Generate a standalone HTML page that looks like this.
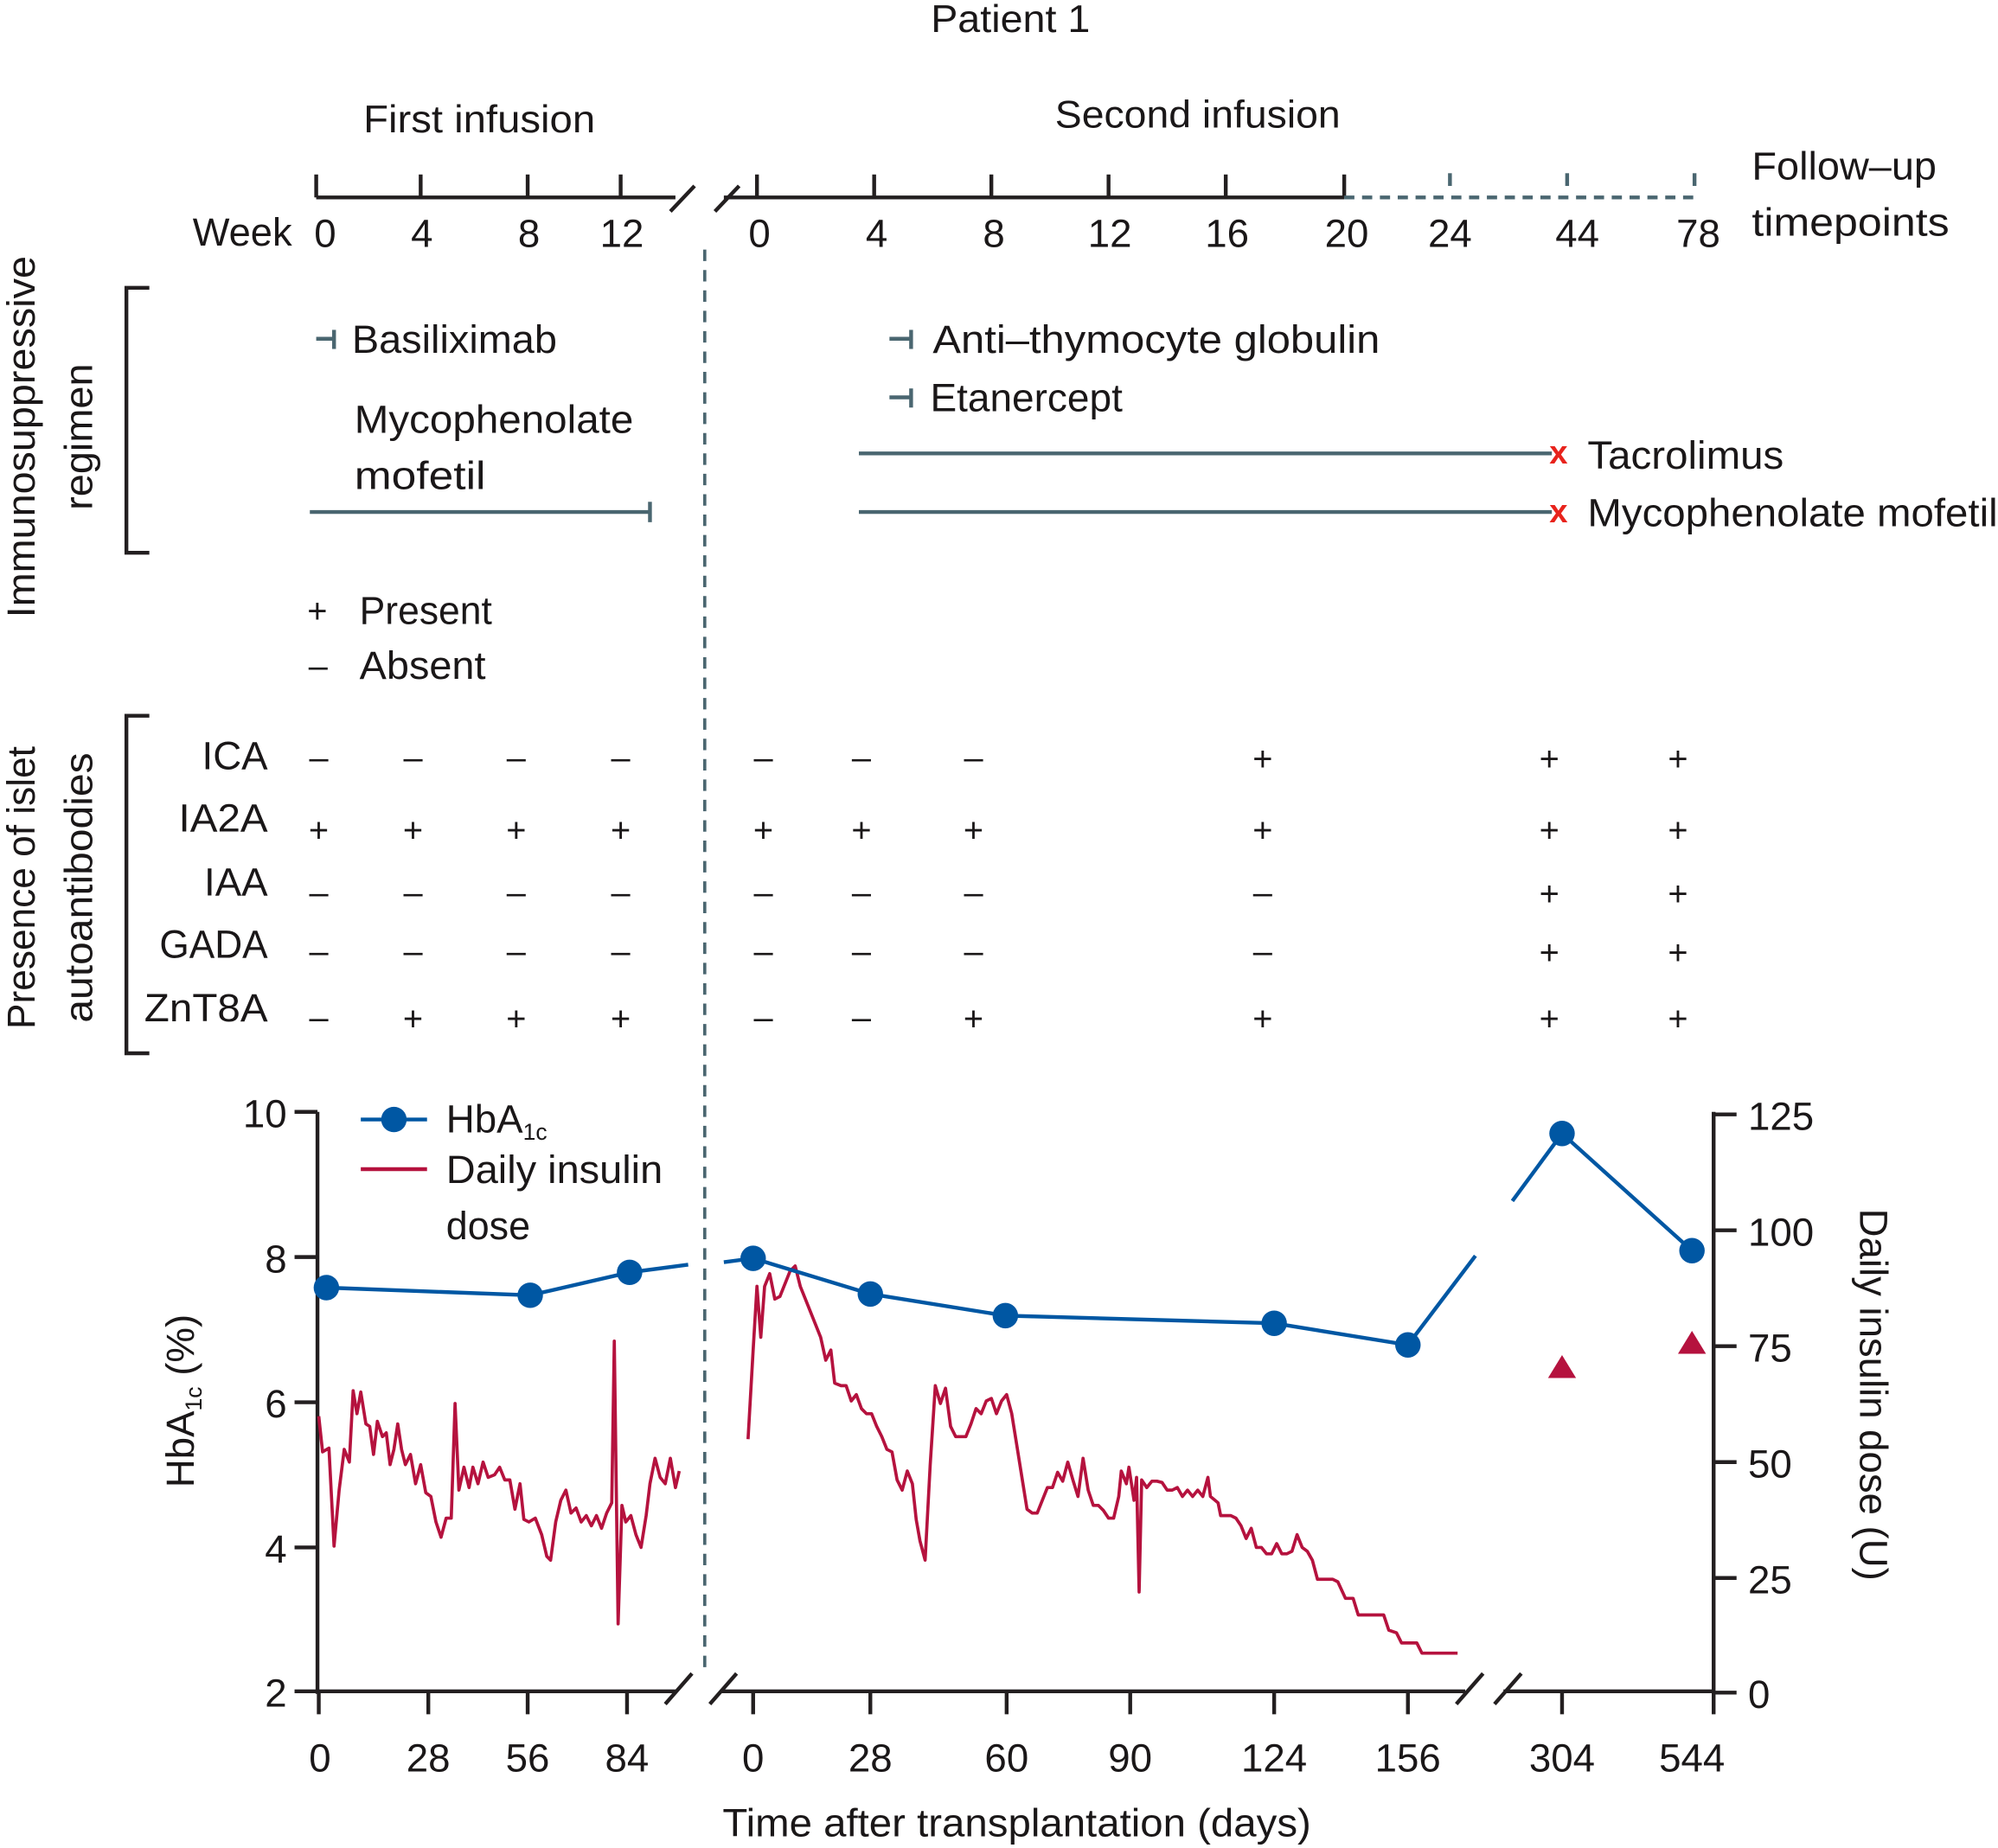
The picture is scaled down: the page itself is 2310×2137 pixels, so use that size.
<!DOCTYPE html>
<html><head><meta charset="utf-8"><style>
html,body{margin:0;padding:0;background:#fff}
svg{display:block}
text{font-family:"Liberation Sans",sans-serif;fill:#1a1718}
</style></head><body>
<svg width="2310" height="2137" viewBox="0 0 1568 1451" xmlns="http://www.w3.org/2000/svg">
<g font-size="30">
<text x="793" y="25" text-anchor="middle" textLength="125" lengthAdjust="spacingAndGlyphs">Patient 1</text>
<text x="376" y="104" text-anchor="middle" textLength="182" lengthAdjust="spacingAndGlyphs">First infusion</text>
<text x="940" y="100" text-anchor="middle" textLength="224" lengthAdjust="spacingAndGlyphs">Second infusion</text>
</g>
<g stroke="#231f20" stroke-width="3" fill="none">
<line x1="248" y1="155" x2="530" y2="155"/>
<line x1="248" y1="137" x2="248" y2="155"/><line x1="330" y1="137" x2="330" y2="155"/><line x1="414" y1="137" x2="414" y2="155"/><line x1="487" y1="137" x2="487" y2="155"/>
<line x1="526" y1="166" x2="545" y2="146"/><line x1="561" y1="166" x2="580" y2="146"/>
<line x1="568" y1="155" x2="1055" y2="155"/>
<line x1="594" y1="137" x2="594" y2="155"/><line x1="686" y1="137" x2="686" y2="155"/><line x1="778" y1="137" x2="778" y2="155"/><line x1="870" y1="137" x2="870" y2="155"/><line x1="962" y1="137" x2="962" y2="155"/><line x1="1055" y1="137" x2="1055" y2="155"/>
</g>
<g stroke="#4a6670" stroke-width="3" fill="none">
<line x1="1055" y1="155" x2="1332" y2="155" stroke-dasharray="8,6"/>
<line x1="1138" y1="136" x2="1138" y2="146"/><line x1="1230" y1="136" x2="1230" y2="146"/><line x1="1330" y1="136" x2="1330" y2="146"/>
<line x1="553" y1="196" x2="553" y2="1312" stroke-width="2.5" stroke-dasharray="9,7"/>
</g>
<g font-size="31" text-anchor="middle">
<text x="190" y="193" textLength="78" lengthAdjust="spacingAndGlyphs">Week</text>
<text x="255" y="194">0</text><text x="331" y="194">4</text><text x="415" y="194">8</text><text x="488" y="194">12</text>
<text x="596" y="194">0</text><text x="688" y="194">4</text><text x="780" y="194">8</text><text x="871" y="194">12</text><text x="963" y="194">16</text><text x="1057" y="194">20</text><text x="1138" y="194">24</text><text x="1238" y="194">44</text><text x="1333" y="194">78</text>
</g>
<g font-size="31">
<text x="1375" y="141" textLength="145" lengthAdjust="spacingAndGlyphs">Follow–up</text>
<text x="1375" y="185" textLength="155" lengthAdjust="spacingAndGlyphs">timepoints</text>
</g>
<g stroke="#231f20" stroke-width="3" fill="none">
<polyline points="117,226 99,226 99,434 117,434"/>
<polyline points="117,562 99,562 99,827 117,827"/>
</g>
<g font-size="31" text-anchor="middle">
<text transform="translate(27,343) rotate(-90)" textLength="284" lengthAdjust="spacingAndGlyphs">Immunosuppressive</text>
<text transform="translate(72,343) rotate(-90)" textLength="115" lengthAdjust="spacingAndGlyphs">regimen</text>
<text transform="translate(27,697) rotate(-90)" textLength="222" lengthAdjust="spacingAndGlyphs">Presence of islet</text>
<text transform="translate(72,697) rotate(-90)" textLength="212" lengthAdjust="spacingAndGlyphs">autoantibodies</text>
</g>
<g stroke="#4a6670" stroke-width="3" fill="none">
<line x1="248" y1="266" x2="262" y2="266"/><line x1="262" y1="259" x2="262" y2="274"/>
<line x1="698" y1="266" x2="715" y2="266"/><line x1="715" y1="259" x2="715" y2="274"/>
<line x1="698" y1="312" x2="715" y2="312"/><line x1="715" y1="305" x2="715" y2="320"/>
<line x1="243" y1="402" x2="510" y2="402"/><line x1="510" y1="394" x2="510" y2="410"/>
<line x1="674" y1="356" x2="1218" y2="356"/>
<line x1="674" y1="402" x2="1218" y2="402"/>
</g>
<g font-size="31">
<text x="276" y="277" textLength="161" lengthAdjust="spacingAndGlyphs">Basiliximab</text>
<text x="278" y="340" textLength="219" lengthAdjust="spacingAndGlyphs">Mycophenolate</text>
<text x="278" y="384" textLength="103" lengthAdjust="spacingAndGlyphs">mofetil</text>
<text x="732" y="277" textLength="351" lengthAdjust="spacingAndGlyphs">Anti–thymocyte globulin</text>
<text x="730" y="323" textLength="151" lengthAdjust="spacingAndGlyphs">Etanercept</text>
<text x="1246" y="368" textLength="154" lengthAdjust="spacingAndGlyphs">Tacrolimus</text>
<text x="1246" y="413" textLength="322" lengthAdjust="spacingAndGlyphs">Mycophenolate mofetil</text>
<text x="1216" y="364" font-size="26" font-weight="bold" style="fill:#e8231c">x</text>
<text x="1216" y="410" font-size="26" font-weight="bold" style="fill:#e8231c">x</text>
<text x="241" y="489" font-size="27">+</text><text x="282" y="490" textLength="104" lengthAdjust="spacingAndGlyphs">Present</text>
<text x="242" y="532" font-size="27">–</text><text x="282" y="533" textLength="99" lengthAdjust="spacingAndGlyphs">Absent</text>
</g>
<g font-size="31" text-anchor="end">
<text x="210" y="604">ICA</text><text x="210" y="653" textLength="70" lengthAdjust="spacingAndGlyphs">IA2A</text><text x="210" y="703">IAA</text><text x="210" y="752" textLength="85" lengthAdjust="spacingAndGlyphs">GADA</text><text x="210" y="802" textLength="97" lengthAdjust="spacingAndGlyphs">ZnT8A</text>
</g>
<g font-size="27" text-anchor="middle">
<text x="250" y="604">–</text><text x="324" y="604">–</text><text x="405" y="604">–</text><text x="487" y="604">–</text><text x="599" y="604">–</text><text x="676" y="604">–</text><text x="764" y="604">–</text><text x="991" y="605">+</text><text x="1216" y="605">+</text><text x="1317" y="605">+</text>
<text x="250" y="661">+</text><text x="324" y="661">+</text><text x="405" y="661">+</text><text x="487" y="661">+</text><text x="599" y="661">+</text><text x="676" y="661">+</text><text x="764" y="661">+</text><text x="991" y="661">+</text><text x="1216" y="661">+</text><text x="1317" y="661">+</text>
<text x="250" y="710">–</text><text x="324" y="710">–</text><text x="405" y="710">–</text><text x="487" y="710">–</text><text x="599" y="710">–</text><text x="676" y="710">–</text><text x="764" y="710">–</text><text x="991" y="710">–</text><text x="1216" y="711">+</text><text x="1317" y="711">+</text>
<text x="250" y="756">–</text><text x="324" y="756">–</text><text x="405" y="756">–</text><text x="487" y="756">–</text><text x="599" y="756">–</text><text x="676" y="756">–</text><text x="764" y="756">–</text><text x="991" y="756">–</text><text x="1216" y="757">+</text><text x="1317" y="757">+</text>
<text x="250" y="808">–</text><text x="324" y="809">+</text><text x="405" y="809">+</text><text x="487" y="809">+</text><text x="599" y="808">–</text><text x="676" y="808">–</text><text x="764" y="809">+</text><text x="991" y="809">+</text><text x="1216" y="809">+</text><text x="1317" y="809">+</text>
</g>
<g stroke="#231f20" stroke-width="3" fill="none">
<line x1="249" y1="873" x2="249" y2="1330"/>
<line x1="231" y1="873" x2="249" y2="873"/><line x1="231" y1="987" x2="249" y2="987"/><line x1="231" y1="1101" x2="249" y2="1101"/><line x1="231" y1="1215" x2="249" y2="1215"/><line x1="231" y1="1328" x2="249" y2="1328"/>
<line x1="1345" y1="873" x2="1345" y2="1346"/>
<line x1="1345" y1="875" x2="1363" y2="875"/><line x1="1345" y1="966" x2="1363" y2="966"/><line x1="1345" y1="1057" x2="1363" y2="1057"/><line x1="1345" y1="1148" x2="1363" y2="1148"/><line x1="1345" y1="1239" x2="1363" y2="1239"/><line x1="1345" y1="1329" x2="1363" y2="1329"/>
<line x1="249" y1="1328" x2="530" y2="1328"/>
<line x1="522" y1="1338" x2="543" y2="1314"/><line x1="557" y1="1338" x2="578" y2="1314"/>
<line x1="565" y1="1328" x2="1150" y2="1328"/>
<line x1="1143" y1="1338" x2="1164" y2="1314"/><line x1="1173" y1="1338" x2="1194" y2="1314"/>
<line x1="1180" y1="1328" x2="1345" y2="1328"/>
<line x1="250" y1="1328" x2="250" y2="1346"/><line x1="336" y1="1328" x2="336" y2="1346"/><line x1="414" y1="1328" x2="414" y2="1346"/><line x1="492" y1="1328" x2="492" y2="1346"/>
<line x1="591" y1="1328" x2="591" y2="1346"/><line x1="683" y1="1328" x2="683" y2="1346"/><line x1="790" y1="1328" x2="790" y2="1346"/><line x1="887" y1="1328" x2="887" y2="1346"/><line x1="1000" y1="1328" x2="1000" y2="1346"/><line x1="1105" y1="1328" x2="1105" y2="1346"/>
<line x1="1226" y1="1328" x2="1226" y2="1346"/>
</g>
<g font-size="31" text-anchor="end">
<text x="225" y="885">10</text><text x="225" y="999">8</text><text x="225" y="1113">6</text><text x="225" y="1227">4</text><text x="225" y="1340">2</text>
</g>
<g font-size="31">
<text x="1372" y="887">125</text><text x="1372" y="978">100</text><text x="1372" y="1069">75</text><text x="1372" y="1160">50</text><text x="1372" y="1251">25</text><text x="1372" y="1341">0</text>
</g>
<g font-size="31" text-anchor="middle">
<text x="251" y="1391">0</text><text x="336" y="1391">28</text><text x="414" y="1391">56</text><text x="492" y="1391">84</text>
<text x="591" y="1391">0</text><text x="683" y="1391">28</text><text x="790" y="1391">60</text><text x="887" y="1391">90</text><text x="1000" y="1391">124</text><text x="1105" y="1391">156</text><text x="1226" y="1391">304</text><text x="1328" y="1391">544</text>
<text x="798" y="1442" textLength="462" lengthAdjust="spacingAndGlyphs">Time after transplantation (days)</text>
<text transform="translate(152,1100) rotate(-90)">HbA<tspan font-size="18" dy="6">1c</tspan><tspan dy="-6"> (%)</tspan></text>
<text transform="translate(1460,1095) rotate(90)" textLength="292" lengthAdjust="spacingAndGlyphs">Daily insulin dose (U)</text>
</g>
<line x1="283" y1="879" x2="335" y2="879" stroke="#0057a3" stroke-width="3"/>
<circle cx="309" cy="879" r="10" fill="#0057a3"/>
<line x1="283" y1="918" x2="335" y2="918" stroke="#b5123e" stroke-width="3"/>
<g font-size="31">
<text x="350" y="889">HbA<tspan font-size="18" dy="6">1c</tspan></text>
<text x="350" y="929" textLength="170" lengthAdjust="spacingAndGlyphs">Daily insulin</text>
<text x="350" y="973" textLength="66" lengthAdjust="spacingAndGlyphs">dose</text>
</g>
<g stroke="#b5123e" stroke-width="2.5" fill="none" stroke-linejoin="round">
<polyline points="250,1112 253,1140 258,1137 262,1214 266,1170 270,1138 274,1148 277,1092 280,1110 283,1093 287,1118 290,1120 293,1142 296,1116 300,1128 303,1125 306,1150 309,1138 312,1118 315,1138 318,1150 322,1142 326,1165 330,1150 334,1172 338,1175 342,1195 346,1207 350,1192 354,1192 357,1102 360,1170 364,1152 368,1168 371,1152 375,1165 379,1148 383,1160 388,1158 392,1152 396,1162 400,1162 404,1185 408,1165 411,1193 415,1195 420,1192 425,1205 429,1222 432,1225 436,1195 440,1178 444,1170 448,1188 452,1184 456,1195 460,1190 464,1198 468,1190 472,1200 476,1188 480,1180 482,1053 485,1275 488,1182 491,1195 495,1190 499,1205 503,1215 507,1190 510,1165 514,1145 518,1160 522,1165 526,1145 530,1168 533,1155"/>
<polyline points="587,1130 591,1060 594,1010 597,1050 600,1010 604,1000 608,1020 612,1018 616,1008 620,998 624,994 628,1010 632,1020 636,1030 640,1040 644,1050 648,1068 652,1060 655,1086 660,1088 664,1088 668,1100 672,1095 676,1106 680,1110 684,1110 688,1120 692,1128 696,1138 700,1140 704,1162 708,1170 712,1155 716,1165 719,1193 722,1210 726,1225 730,1150 734,1088 738,1102 742,1090 746,1120 750,1128 754,1128 758,1128 762,1118 766,1106 770,1110 774,1100 778,1098 782,1110 786,1100 790,1095 794,1110 798,1135 802,1160 806,1185 810,1188 814,1188 818,1178 822,1168 826,1168 830,1156 834,1163 838,1148 842,1162 846,1175 850,1145 854,1170 858,1182 862,1182 866,1186 870,1192 874,1192 878,1175 880,1155 884,1165 886,1152 890,1178 892,1160 894,1250 896,1162 900,1168 904,1163 908,1163 912,1164 916,1170 920,1170 924,1168 928,1175 932,1170 936,1175 940,1170 944,1175 948,1160 950,1175 956,1180 958,1190 962,1190 966,1190 970,1192 974,1198 978,1208 982,1200 986,1215 990,1215 994,1220 998,1220 1002,1212 1006,1220 1010,1220 1014,1218 1018,1205 1022,1215 1026,1218 1030,1225 1034,1240 1040,1240 1046,1240 1050,1242 1056,1255 1062,1255 1066,1268 1072,1268 1080,1268 1086,1268 1090,1280 1096,1282 1100,1290 1106,1290 1112,1290 1116,1298 1124,1298 1144,1298"/>
</g>
<polygon points="1226,1064 1237,1082 1215,1082" fill="#b5123e"/>
<polygon points="1328,1045 1339,1063 1317,1063" fill="#b5123e"/>
<g stroke="#0057a3" stroke-width="3" fill="none">
<polyline points="256,1011 416,1017 494,999 540,993"/>
<polyline points="568,991 591,988 683,1016 789,1033 1000,1039 1105,1056 1158,986"/>
<polyline points="1187,943 1226,890 1328,982"/>
</g>
<g fill="#0057a3">
<circle cx="256" cy="1011" r="10"/><circle cx="416" cy="1017" r="10"/><circle cx="494" cy="999" r="10"/>
<circle cx="591" cy="988" r="10"/><circle cx="683" cy="1016" r="10"/><circle cx="789" cy="1033" r="10"/><circle cx="1000" cy="1039" r="10"/><circle cx="1105" cy="1056" r="10"/>
<circle cx="1226" cy="890" r="10"/><circle cx="1328" cy="982" r="10"/>
</g>
</svg>
</body></html>
